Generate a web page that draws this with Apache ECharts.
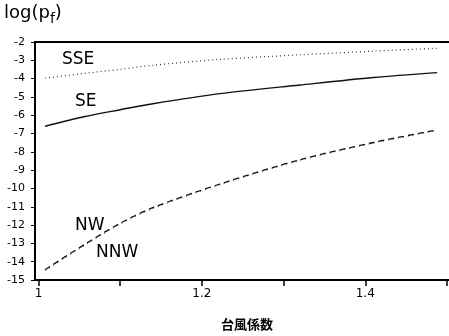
<!DOCTYPE html>
<html><head><meta charset="utf-8">
<script src="https://cdn.jsdelivr.net/npm/echarts@6/dist/echarts.min.js"></script>
<style>html,body{margin:0;padding:0;background:#fff}#c{width:449px;height:336px}</style>
</head><body><div id="c"></div>
<script>
const xValues = [1.008, 1.057, 1.10, 1.14, 1.222, 1.32, 1.41, 1.488];
const sseValues = [-3.98, -3.71, -3.49, -3.27, -2.95, -2.70, -2.50, -2.34];
const seValues  = [-6.60, -6.07, -5.70, -5.37, -4.82, -4.35, -3.94, -3.67];
const nwValues  = [-14.44, -13.04, -11.90, -11.05, -9.76, -8.43, -7.49, -6.80];
const nnwValues = [-14.50, -13.10, -11.95, -11.10, -9.80, -8.47, -7.52, -6.84];
const xTicks = [1, 1.1, 1.2, 1.3, 1.4, 1.5];
const xTickLabels = [1, 1.2, 1.4];
const seriesNames = ['SSE', 'SE', 'NW', 'NNW'];

const pair = v => xValues.map((x, i) => [x, v[i]]);
const font = 'DejaVu Sans';
const chart = echarts.init(document.getElementById('c'), null, {renderer: 'canvas'});
chart.setOption({
  animation: false,
  grid: {left: 35, right: 0, top: 42, bottom: 56},
  xAxis: [{
    type: 'value', min: 0.9957, max: 1.5025,
    splitLine: {show: false},
    axisLine: {lineStyle: {color: '#000', width: 2}},
    axisTick: {show: true, inside: false, length: 6, customValues: xTicks, lineStyle: {color: '#000', width: 1.5}},
    axisLabel: {customValues: xTickLabels, margin: 8, color: '#000', fontFamily: font, fontSize: 12,
      formatter: v => String(Math.round(v * 10) / 10)},
    name: '台風係数', nameLocation: 'middle', nameGap: 38,
    nameTextStyle: {fontFamily: 'Noto Sans CJK JP', fontSize: 13, fontWeight: 'bold', color: '#000', padding: [0, 0, 0, 10]}
  }, {
    type: 'value', min: 0.9957, max: 1.5025, position: 'top',
    splitLine: {show: false},
    axisLine: {show: true, lineStyle: {color: '#000', width: 2}},
    axisTick: {show: false}, axisLabel: {show: false}
  }],
  yAxis: {
    type: 'value', min: -15, max: -2, interval: 1,
    splitLine: {show: false},
    axisLine: {show: true, lineStyle: {color: '#000', width: 2}},
    axisTick: {show: true, length: 4, lineStyle: {color: '#000', width: 1}},
    axisLabel: {margin: 10, color: '#000', fontFamily: font, fontSize: 11}
  },
  series: [
    {name: seriesNames[0], type: 'line', data: pair(sseValues), smooth: 0.3, showSymbol: false,
     lineStyle: {color: '#333', width: 1.2, type: [1, 3]}},
    {name: seriesNames[1], type: 'line', data: pair(seValues), smooth: 0.3, showSymbol: false,
     lineStyle: {color: '#111', width: 1.4}},
    {name: seriesNames[2], type: 'line', data: pair(nwValues), smooth: 0.3, showSymbol: false,
     lineStyle: {color: '#111', width: 1.3, type: [6, 4]}},
    {name: seriesNames[3], type: 'line', data: pair(nnwValues), smooth: 0.3, showSymbol: false,
     lineStyle: {color: '#333', width: 1, type: [1, 4]}}
  ],
  graphic: [
    {type: 'text', left: 4, top: 4, style: {
      text: '{a|log(p}{s|f}{a|)}',
      rich: {a: {fontFamily: font, fontSize: 18, fill: '#000'},
             s: {fontFamily: font, fontSize: 14, fill: '#000', verticalAlign: 'bottom', padding: [12, 0, 0, 0]}}}},
    {type: 'text', left: 62, top: 51, style: {text: seriesNames[0], fontFamily: font, fontSize: 17, fill: '#000'}},
    {type: 'text', left: 75, top: 93, style: {text: seriesNames[1], fontFamily: font, fontSize: 17, fill: '#000'}},
    {type: 'text', left: 75, top: 217, style: {text: seriesNames[2], fontFamily: font, fontSize: 17, fill: '#000'}},
    {type: 'text', left: 96, top: 244, style: {text: seriesNames[3], fontFamily: font, fontSize: 17, fill: '#000'}}
  ]
});
</script></body></html>
